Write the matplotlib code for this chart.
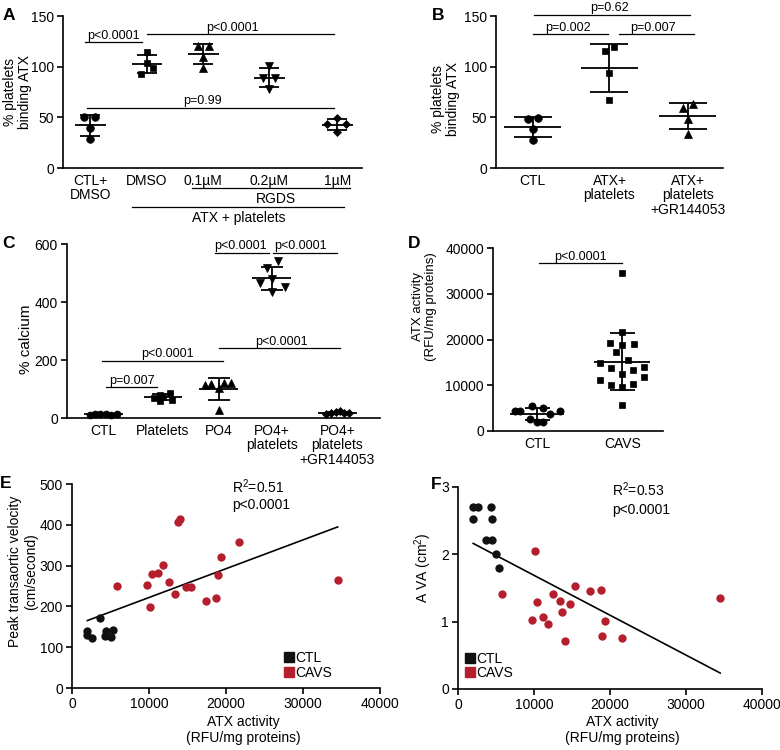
import numpy as np
import matplotlib
matplotlib.use('Agg')
import matplotlib.pyplot as plt
from matplotlib.lines import Line2D
import matplotlib.transforms as mtransforms

plt.rcParams['font.family'] = ['Liberation Sans', 'DejaVu Sans']
plt.rcParams['mathtext.fontset'] = 'custom'
plt.rcParams['mathtext.rm'] = 'Liberation Sans'
plt.rcParams['mathtext.it'] = 'Liberation Sans:italic'
plt.rcParams['mathtext.bf'] = 'Liberation Sans:bold'

# ---------------- data ----------------
# Panel A: % platelets binding ATX
a_labels = ['CTL+\nDMSO', 'DMSO', '0.1µM', '0.2µM', '1µM']
a_ctl_dmso = [50, 50, 39, 29]
a_dmso = [114, 104, 99, 93]
a_rgds01 = [120, 120, 110, 99]
a_rgds02 = [101, 89, 89, 78]
a_rgds1 = [49, 43, 43, 36]
a_pvals = ['p<0.0001', 'p<0.0001', 'p=0.99']

# Panel B
b_labels = ['CTL', 'ATX+\nplatelets', 'ATX+\nplatelets\n+GR144053']
b_ctl = [48, 49, 38, 28]
b_atx = [115, 119, 94, 67]
b_gr = [59, 63, 48, 34]
b_pvals = ['p=0.62', 'p=0.002', 'p=0.007']

# Panel C: % calcium
c_labels = ['CTL', 'Platelets', 'PO4', 'PO4+\nplatelets', 'PO4+\nplatelets\n+GR144053']
c_ctl = [12, 14, 13, 15, 12, 14]
c_platelets = [86, 80, 72, 68, 63, 60]
c_po4 = [114, 116, 120, 122, 102, 27]
c_po4_platelets = [541, 518, 479, 464, 453, 433]
c_po4_platelets_gr = [14, 17, 20, 24, 18, 16]
c_pvals = ['p=0.007', 'p<0.0001', 'p<0.0001', 'p<0.0001', 'p<0.0001']

# Panel D/E/F: ATX activity per patient (RFU/mg proteins)
d_labels = ['CTL', 'CAVS']
ctl_atx = [2000, 2000, 2580, 3700, 4350, 4420, 4420, 5010, 5370]
cavs_atx = [5785, 9695, 10130, 10370, 11135, 11855, 12535, 13405, 13730,
            14080, 14780, 15435, 17355, 18755, 18930, 19300, 21635, 34500]
d_pval = 'p<0.0001'

# Panel E: peak transaortic velocity (cm/second)
ctl_velocity = [140, 130, 122, 172, 127, 139, 131, 126, 141]
cavs_velocity = [251, 253, 198.5, 280, 282, 301, 260, 231, 406, 413,
                 247, 247, 214, 221, 276, 321, 357, 265]
e_stats = ['R$^2$=0.51', 'p<0.0001']

# Panel F: AVA (cm2)
ctl_ava = [2.52, 2.71, 2.71, 2.21, 2.71, 2.52, 2.21, 2.0, 1.80]
cavs_ava = [1.41, 1.02, 2.05, 1.29, 1.07, 0.97, 1.41, 1.30, 1.14, 0.72,
            1.26, 1.53, 1.45, 1.47, 0.78, 1.01, 0.755, 1.35]
f_stats = ['R$^2$=0.53', 'p<0.0001']

group_names = ['CTL', 'CAVS']

# ---------------- layout / style ----------------
RED = '#B41E2D'
BLACK = '#111111'
W, H = 780, 750
fig = plt.figure(figsize=(7.8, 7.5), dpi=100)


def add_ax(l, t, r, b):
    ax = fig.add_axes([l / W, 1 - b / H, (r - l) / W, (b - t) / H])
    for s in ('top', 'right'):
        ax.spines[s].set_visible(False)
    for s in ('left', 'bottom'):
        ax.spines[s].set_linewidth(1.2)
    ax.tick_params(axis='both', direction='out', length=4.5, width=1.2,
                   labelsize=10, pad=2)
    return ax


def letter(x, y, s):
    fig.text(x / W, 1 - y / H, s, ha='left', va='center', fontsize=12.5,
             fontweight='bold')


def dot_group(ax, x, vals, jit, marker, ms, mean_hw, cap_pt):
    vals = np.asarray(vals, float)
    ax.plot(x + np.asarray(jit), vals, linestyle='none', marker=marker, ms=ms,
            color='k', mec='k', mew=0.5, clip_on=False, zorder=3)
    m = vals.mean()
    sd = vals.std(ddof=1)
    ax.hlines(m, x - mean_hw, x + mean_hw, color='k', lw=1.3, zorder=4)
    ax.errorbar(x, m, yerr=sd, fmt='none', ecolor='k', elinewidth=1.3,
                capsize=cap_pt, capthick=1.3, zorder=4)


def sig(ax, x1, x2, y, text, tx=None, fs=9):
    ax.plot([x1, x2], [y, y], color='k', lw=0.9, clip_on=False)
    if tx is None:
        tx = (x1 + x2) / 2
    trans = mtransforms.offset_copy(ax.transData, fig=fig, y=0.5, units='points')
    ax.text(tx, y, text, ha='center', va='bottom', fontsize=fs, transform=trans)


def cat_axis(ax, pos, labels):
    ax.set_xticks(pos)
    ax.set_xticklabels(labels, fontsize=10, linespacing=1.05)
    ax.tick_params(axis='x', length=0, pad=4)


# ---------------- Panel A ----------------
ax = add_ax(63, 16, 362, 168)
a_pos = [0, 0.92, 1.83, 2.90, 4.0]
a_sets = [a_ctl_dmso, a_dmso, a_rgds01, a_rgds02, a_rgds1]
a_marks = [('o', 5.5), ('s', 5), ('^', 6), ('v', 6), ('D', 4.2)]
a_jit = [[-0.1, 0.07, 0, 0], [0, 0, 0.09, -0.09], [-0.09, 0.09, 0, 0],
         [0, -0.1, 0.09, 0], [0, -0.17, 0.14, 0]]
for p, v, (mk, ms), j in zip(a_pos, a_sets, a_marks, a_jit):
    dot_group(ax, p, v, j, mk, ms, 0.25, 7)
ax.set_xlim(-0.44, 4.40)
ax.set_ylim(0, 150)
ax.set_yticks([0, 50, 100, 150])
cat_axis(ax, a_pos, a_labels)
sig(ax, -0.08, 0.84, 124, a_pvals[0])
sig(ax, 0.92, 3.94, 132, a_pvals[1], tx=2.3)
sig(ax, -0.05, 3.94, 59.5, a_pvals[2], tx=1.81)
xt = ax.get_xaxis_transform()
ax.plot([1.65, 4.21], [-0.132, -0.132], color='k', lw=0.9, transform=xt, clip_on=False)
ax.text(3.0, -0.204, 'RGDS', ha='center', va='center', fontsize=10, transform=xt)
ax.plot([0.68, 4.11], [-0.257, -0.257], color='k', lw=0.9, transform=xt, clip_on=False)
ax.text(2.4, -0.33, 'ATX + platelets', ha='center', va='center', fontsize=10, transform=xt)
ax.set_ylabel('% platelets\nbinding ATX', fontsize=10, linespacing=1.1)
ax.yaxis.set_label_coords(-0.105, 0.5)
letter(3, 15, 'A')

# ---------------- Panel B ----------------
ax = add_ax(496, 16, 723, 168)
b_pos = [0, 1, 2.02]
b_sets = [b_ctl, b_atx, b_gr]
b_marks = [('o', 5.5), ('s', 5), ('^', 6)]
b_jit = [[-0.065, 0.065, 0, 0], [-0.065, 0.065, 0, 0], [-0.057, 0.074, 0, 0]]
for p, v, (mk, ms), j in zip(b_pos, b_sets, b_marks, b_jit):
    dot_group(ax, p, v, j, mk, ms, 0.37, 14)
ax.set_xlim(-0.48, 2.48)
ax.set_ylim(0, 150)
ax.set_yticks([0, 50, 100, 150])
cat_axis(ax, b_pos, b_labels)
sig(ax, 0.01, 2.05, 151, b_pvals[0], tx=1.0)
sig(ax, 0.0, 0.98, 132, b_pvals[1], tx=0.46)
sig(ax, 1.12, 2.1, 132, b_pvals[2], tx=1.57)
ax.set_ylabel('% platelets\nbinding ATX', fontsize=10, linespacing=1.1)
ax.yaxis.set_label_coords(-0.16, 0.455)
letter(432, 15, 'B')

# ---------------- Panel C ----------------
ax = add_ax(67, 244, 380, 418)
c_pos = [0, 1.02, 1.97, 2.88, 4.0]
c_sets = [c_ctl, c_platelets, c_po4, c_po4_platelets, c_po4_platelets_gr]
c_marks = [('o', 5), ('s', 5), ('^', 5.5), ('v', 5.5), ('D', 4.2)]
c_jit = [[-0.23, -0.14, -0.05, 0.05, 0.14, 0.23],
         [0.12, -0.05, 0.0, -0.15, 0.15, -0.05],
         [-0.23, -0.13, 0.085, 0.21, 0, 0],
         [0.1, -0.085, 0, -0.2, 0.22, 0],
         [-0.2, -0.1, -0.03, 0.05, 0.12, 0.2]]
for p, v, (mk, ms), j in zip(c_pos, c_sets, c_marks, c_jit):
    dot_group(ax, p, v, j, mk, ms, 0.33, 8)
ax.set_xlim(-0.62, 4.73)
ax.set_ylim(0, 600)
ax.set_yticks([0, 200, 400, 600])
cat_axis(ax, c_pos, c_labels)
sig(ax, 0.05, 0.92, 106, c_pvals[0], tx=0.49)
sig(ax, -0.02, 2.05, 198, c_pvals[1], tx=1.09)
sig(ax, 1.91, 2.83, 570, c_pvals[2], tx=2.35)
sig(ax, 2.9, 4.0, 570, c_pvals[3], tx=3.37)
sig(ax, 1.97, 4.05, 240, c_pvals[4], tx=3.05)
ax.set_ylabel('% calcium', fontsize=11)
ax.yaxis.set_label_coords(-0.11, 0.45)
letter(2, 244, 'C')

# ---------------- Panel D ----------------
ax = add_ax(493, 248, 663, 431)
d_pos = [0, 1]
d_jit_ctl = [0.0, 0.07, -0.08, 0.15, 0.27, -0.26, -0.2, 0.07, -0.06]
d_jit_cavs = [0, 0, -0.13, 0.13, -0.26, 0.26, 0, 0.13, -0.13, 0.26, -0.26,
              0.07, -0.07, 0, 0.14, -0.14, 0, 0]
dot_group(ax, d_pos[0], ctl_atx, d_jit_ctl, 'o', 5.2, 0.32, 9)
dot_group(ax, d_pos[1], cavs_atx, d_jit_cavs, 's', 5, 0.33, 9)
ax.set_xlim(-0.52, 1.48)
ax.set_ylim(0, 40000)
ax.set_yticks([0, 10000, 20000, 30000, 40000])
cat_axis(ax, d_pos, d_labels)
sig(ax, 0.02, 1.0, 36620, d_pval, tx=0.51)
ax.set_ylabel('ATX activity\n(RFU/mg proteins)', fontsize=9.5, linespacing=1.05)
ax.yaxis.set_label_coords(-0.33, 0.68)
letter(408, 243, 'D')


# ---------------- Panels E and F ----------------
def reg_panel(ax, y_ctl, y_cavs):
    xs = np.array(ctl_atx + cavs_atx, float)
    ys = np.array(list(y_ctl) + list(y_cavs), float)
    k, b0 = np.polyfit(xs, ys, 1)
    xl = np.array([xs.min(), xs.max()])
    ax.plot(xl, k * xl + b0, color='k', lw=1.2, zorder=2)
    ax.plot(ctl_atx, y_ctl, 'o', color=BLACK, ms=6, mec='none', zorder=3, clip_on=False)
    ax.plot(cavs_atx, y_cavs, 'o', color=RED, ms=6, mec='none', zorder=3, clip_on=False)
    ax.set_xlim(0, 40000)
    ax.set_xticks([0, 10000, 20000, 30000, 40000])
    ax.set_xlabel('ATX activity\n(RFU/mg proteins)', fontsize=10, linespacing=1.2)
    handles = [Line2D([], [], marker='s', ls='none', color=BLACK, ms=7.5),
               Line2D([], [], marker='s', ls='none', color=RED, ms=7.5)]
    return handles


ax = add_ax(72, 484, 380, 688)
hs = reg_panel(ax, ctl_velocity, cavs_velocity)
ax.set_ylim(0, 500)
ax.set_yticks([0, 100, 200, 300, 400, 500])
ax.xaxis.set_label_coords(0.555, -0.13)
ax.set_ylabel('Peak transaortic velocity\n(cm/second)', fontsize=10, linespacing=1.15)
ax.yaxis.set_label_coords(-0.11, 0.57)
ax.legend(hs, group_names, loc='upper left', bbox_to_anchor=(0.69, 0.18),
          frameon=False, handlelength=0.7, handletextpad=0.05, labelspacing=0.05,
          borderpad=0, borderaxespad=0, fontsize=10)
ax.text(0.52, 0.985, e_stats[0], transform=ax.transAxes, ha='left', va='center', fontsize=10)
ax.text(0.52, 0.897, e_stats[1], transform=ax.transAxes, ha='left', va='center', fontsize=10)
letter(0, 483, 'E')

ax = add_ax(458, 487, 762, 689)
hs = reg_panel(ax, ctl_ava, cavs_ava)
ax.set_ylim(0, 3)
ax.set_yticks([0, 1, 2, 3])
ax.xaxis.set_label_coords(0.54, -0.13)
ax.set_ylabel('A VA (cm$^2$)', fontsize=10)
ax.yaxis.set_label_coords(-0.08, 0.60)
ax.legend(hs, group_names, loc='upper left', bbox_to_anchor=(0.025, 0.185),
          frameon=False, handlelength=0.7, handletextpad=0.05, labelspacing=0.05,
          borderpad=0, borderaxespad=0, fontsize=10)
ax.text(0.507, 0.985, f_stats[0], transform=ax.transAxes, ha='left', va='center', fontsize=10)
ax.text(0.507, 0.886, f_stats[1], transform=ax.transAxes, ha='left', va='center', fontsize=10)
letter(431, 485, 'F')

fig.savefig('out.png', dpi=100)
